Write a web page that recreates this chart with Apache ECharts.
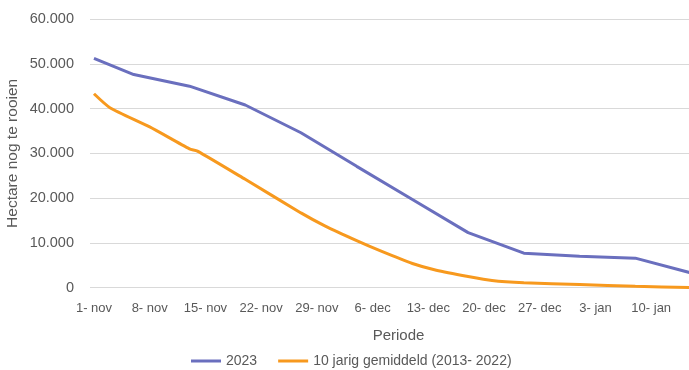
<!DOCTYPE html>
<html>
<head>
<meta charset="utf-8">
<script src="https://cdn.jsdelivr.net/npm/echarts@6/dist/echarts.min.js"></script>
<style>
  html, body { margin: 0; padding: 0; background: #fff; }
  #chart { width: 689px; height: 370px; }
</style>
</head>
<body>
<div id="chart"></div>
<script>
// Daily categories from 1 November to 15 January
const monthNames = ['nov', 'dec', 'jan'];
const monthLengths = [30, 31, 15];

// Hectares still to be cleared, 2023 season (day index from 1 Nov, value)
const days2023 = [0, 5, 12, 19, 26, 33, 40, 47, 54, 61, 68, 75];
const values2023 = [51200, 47600, 45000, 40800, 34600, 27100, 19700, 12300, 7700, 7050, 6600, 3300];

// Ten-year average 2013-2022 (day index from 1 Nov, value)
const daysAvg = [0, 2, 7, 12, 13, 19, 26, 29, 33, 36, 40, 43, 47, 50, 54, 61, 68, 75];
const valuesAvg = [43300, 40200, 35900, 31000, 30500, 24200, 16700, 13800, 10500, 8200, 5400, 3900, 2500, 1600, 1100, 700, 300, 50];

const seriesNames = ['2023', '10 jarig gemiddeld (2013- 2022)'];

const categories = [];
monthNames.forEach((m, mi) => {
  for (let d = 1; d <= monthLengths[mi]; d++) categories.push(d + '- ' + m);
});

function toSeries(days, values) {
  const arr = new Array(categories.length).fill(null);
  days.forEach((d, i) => { arr[d] = values[i]; });
  return arr;
}

const chart = echarts.init(document.getElementById('chart'), null, { renderer: 'canvas' });
const font = 'Liberation Sans, Arial, sans-serif';
const textColor = '#595959';

chart.setOption({
  animation: false,
  grid: { left: 90, top: 19, width: 605, height: 268.7, containLabel: false, outerBoundsMode: 'none' },
  legend: {
    left: 186,
    top: 349,
    icon: 'rect',
    itemWidth: 30,
    itemHeight: 3,
    itemGap: 21,
    textStyle: { color: textColor, fontSize: 14, fontFamily: font },
    data: seriesNames
  },
  xAxis: {
    type: 'category',
    data: categories,
    boundaryGap: true,
    name: 'Periode',
    nameLocation: 'middle',
    nameGap: 41,
    nameTextStyle: { color: textColor, fontSize: 15, fontFamily: font, padding: [0, 0, 0, 12] },
    axisLine: { show: false },
    axisTick: { show: false },
    axisLabel: { interval: 6, color: textColor, fontSize: 13, fontFamily: font, margin: 14 },
    splitLine: { show: false }
  },
  yAxis: {
    type: 'value',
    min: 0,
    max: 60000,
    interval: 10000,
    name: 'Hectare nog te rooien',
    nameLocation: 'middle',
    nameGap: 69,
    nameMoveOverlap: false,
    nameTextStyle: { color: textColor, fontSize: 15.5, fontFamily: font },
    axisLine: { show: false },
    axisTick: { show: false },
    axisLabel: {
      color: textColor, fontSize: 14.5, fontFamily: font, margin: 16,
      formatter: v => v === 0 ? '0' : String(v).replace(/\B(?=(\d{3})+(?!\d))/g, '.')
    },
    splitLine: { lineStyle: { color: '#d9d9d9', width: 1 } }
  },
  series: [
    {
      name: seriesNames[0],
      type: 'line',
      data: toSeries(days2023, values2023),
      connectNulls: true,
      showSymbol: false,
      color: '#6a6fbe',
      lineStyle: { width: 3, color: '#6a6fbe' }
    },
    {
      name: seriesNames[1],
      type: 'line',
      data: toSeries(daysAvg, valuesAvg),
      connectNulls: true,
      showSymbol: false,
      smooth: 0.2,
      color: '#f7991e',
      lineStyle: { width: 3, color: '#f7991e' }
    }
  ]
});
</script>
</body>
</html>
